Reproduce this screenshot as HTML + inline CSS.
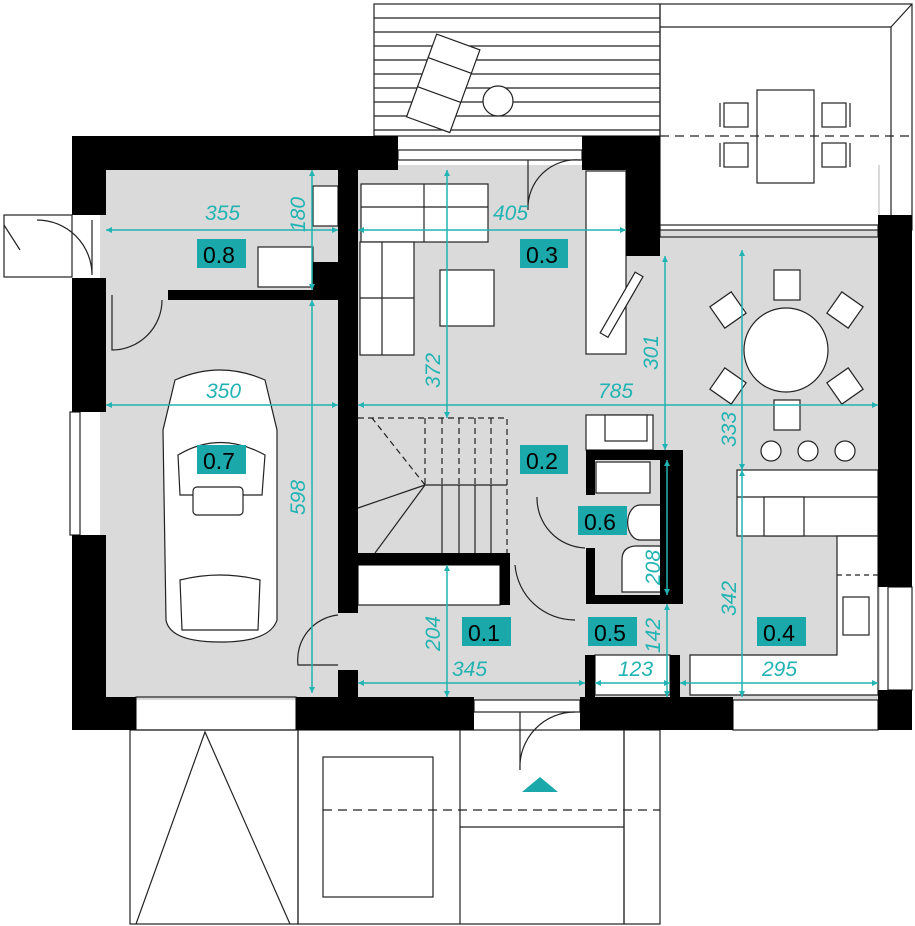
<!DOCTYPE html>
<html><head><meta charset="utf-8"><style>
html,body{margin:0;padding:0;background:#fff;width:915px;height:926px;overflow:hidden}
svg{display:block}
.d{font-family:"Liberation Sans",sans-serif;font-style:italic;font-size:21px;fill:#22b3b3}
.l{font-family:"Liberation Sans",sans-serif;font-size:23px;fill:#000}
</style></head><body>
<svg width="915" height="926" viewBox="0 0 915 926" xmlns="http://www.w3.org/2000/svg">
<defs>
<marker id="a" viewBox="0 0 10 10" refX="10" refY="5" markerWidth="6" markerHeight="6" orient="auto-start-reverse" markerUnits="userSpaceOnUse"><path d="M0,0 L10,5 L0,10 z" fill="#22b3b3"/></marker>
</defs>
<style>.a{marker-start:url(#a);marker-end:url(#a)}</style>
<!-- floors -->
<g fill="#dadada">
<rect x="100" y="165" width="780" height="535"/>
</g>
<rect x="660" y="136" width="218" height="94" fill="#fff"/>
<g fill="none" stroke="#222" stroke-width="1.2">
<!-- top terrace -->
<rect x="374" y="4" width="286" height="132"/>
<line x1="374" y1="18" x2="660" y2="18"/><line x1="374" y1="32" x2="660" y2="32"/><line x1="374" y1="46" x2="660" y2="46"/><line x1="374" y1="60" x2="660" y2="60"/><line x1="374" y1="74" x2="660" y2="74"/><line x1="374" y1="88" x2="660" y2="88"/><line x1="374" y1="102" x2="660" y2="102"/><line x1="374" y1="116" x2="660" y2="116"/><line x1="374" y1="130" x2="660" y2="130"/>
<rect x="660" y="4" width="252" height="226"/>
<polyline points="660,27 891,27 891,230"/><line x1="891" y1="27" x2="912" y2="4"/>
<line x1="660" y1="136" x2="912" y2="136" stroke-dasharray="9,6"/>
<rect x="757" y="90" width="57" height="93"/>
<rect x="724" y="103" width="24" height="24"/><rect x="724" y="143" width="24" height="24"/><rect x="822" y="103" width="24" height="24"/><rect x="822" y="143" width="24" height="24"/>
<line x1="720" y1="103" x2="720" y2="127"/><line x1="720" y1="143" x2="720" y2="167"/><line x1="850" y1="103" x2="850" y2="127"/><line x1="850" y1="143" x2="850" y2="167"/>
<g transform="rotate(20 437 80)" fill="#fff"><rect x="421" y="37" width="46" height="88"/><line x1="421" y1="62" x2="467" y2="62"/><line x1="421" y1="93" x2="467" y2="93"/></g>
<circle cx="498" cy="101" r="15" fill="#fff"/>
</g>
<g fill="#fff" stroke="#222" stroke-width="1.2">
<rect x="586" y="171" width="40" height="183"/>
<g transform="rotate(30 622 305)"><rect x="617" y="270" width="9" height="70"/></g>
<rect x="361" y="184" width="127" height="58"/><line x1="424" y1="184" x2="424" y2="242"/><line x1="361" y1="207" x2="488" y2="207"/>
<rect x="360" y="242" width="54" height="113"/><line x1="360" y1="298" x2="414" y2="298"/><line x1="382" y1="242" x2="382" y2="355"/>
<rect x="440" y="270" width="54" height="56"/>
<rect x="258" y="247" width="55" height="40"/>
<rect x="313" y="186" width="25" height="40"/>
<circle cx="786" cy="350" r="42"/>
<rect x="774" y="270" width="26" height="30"/><rect x="774" y="400" width="26" height="30"/>
<rect x="715" y="297" width="26" height="26" transform="rotate(-35 728 310)"/><rect x="832" y="297" width="26" height="26" transform="rotate(35 845 310)"/>
<rect x="715" y="373" width="26" height="26" transform="rotate(35 728 386)"/><rect x="832" y="373" width="26" height="26" transform="rotate(-35 845 386)"/>
<circle cx="771" cy="451" r="10"/><circle cx="808" cy="451" r="10"/><circle cx="845" cy="451" r="10"/>
<rect x="737" y="470" width="141" height="66"/><line x1="737" y1="497" x2="878" y2="497"/>
<rect x="764" y="497" width="40" height="39"/>
<path d="M837 536 H878 V695 H690 V655 H837 Z"/>
<rect x="843" y="597" width="26" height="38"/>
<line x1="837" y1="575" x2="878" y2="575" stroke-dasharray="5,4"/>
<rect x="586" y="415" width="67" height="35"/><rect x="605" y="415" width="42" height="26"/>
<rect x="596" y="462" width="54" height="31"/>
<path d="M640 505 H675 V540 H640 A12 17 0 0 1 640 505 Z"/>
<path d="M622 592 V560 Q622 546 637 546 H675 V592 Z"/>
<rect x="358" y="565" width="142" height="40"/>
<rect x="595" y="655" width="75" height="40"/>
<!-- car -->
<path d="M175 380 Q220 360 265 380 L277 430 L277 620 Q270 642 220 642 Q170 642 166 620 L163 430 Z"/>
<path d="M178 455 Q220 430 265 455 L262 495 L180 495 Z" fill="none"/>
<rect x="193" y="487" width="50" height="28" rx="4"/>
<path d="M180 580 Q220 570 260 580 L258 630 L182 630 Z" fill="none"/>
<!-- stairs -->
<g fill="none">
<path d="M358 418 H507 V553" stroke-dasharray="6,4"/>
<line x1="425" y1="418" x2="425" y2="485" stroke-dasharray="6,4"/><line x1="442" y1="418" x2="442" y2="485" stroke-dasharray="6,4"/><line x1="459" y1="418" x2="459" y2="485" stroke-dasharray="6,4"/><line x1="475" y1="418" x2="475" y2="485" stroke-dasharray="6,4"/><line x1="491" y1="418" x2="491" y2="485" stroke-dasharray="6,4"/>
<line x1="425" y1="485" x2="507" y2="485"/>
<line x1="442" y1="485" x2="442" y2="553"/><line x1="459" y1="485" x2="459" y2="553"/><line x1="475" y1="485" x2="475" y2="553"/><line x1="491" y1="485" x2="491" y2="553"/>
<line x1="425" y1="485" x2="375" y2="553"/><line x1="425" y1="485" x2="358" y2="508"/><line x1="425" y1="485" x2="372" y2="418" stroke-dasharray="6,4"/>
<!-- door arcs -->
<path d="M528 160 V210 A48 48 0 0 1 580 160"/>
<path d="M112 295 V350 A50 50 0 0 0 162 300"/>
<path d="M92 220 V275 A55 55 0 0 0 37 220"/>
<path d="M338 615 A45 45 0 0 0 298 665 H338"/>
<path d="M515 565 A60 60 0 0 0 575 620"/>
<path d="M537 497 A50 50 0 0 0 585 548"/>
<path d="M520 712 V770 A55 55 0 0 1 575 712"/>
<rect x="4" y="215" width="68" height="62"/>
<line x1="4" y1="225" x2="20" y2="250"/>
</g>
<!-- bottom -->
<g fill="none">
<rect x="130" y="730" width="168" height="194"/>
<polyline points="136,924 205,732 290,924"/>
<rect x="298" y="730" width="326" height="194"/>
<rect x="323" y="757" width="110" height="140"/>
<line x1="323" y1="810" x2="660" y2="810" stroke-dasharray="9,6"/>
<line x1="460" y1="730" x2="460" y2="924"/>
<line x1="460" y1="827" x2="624" y2="827"/>
<rect x="624" y="730" width="36" height="194"/>
<rect x="733" y="700" width="145" height="30"/>
<rect x="136" y="697" width="160" height="33"/>
<rect x="70" y="412" width="10" height="123"/>
<rect x="888" y="587" width="24" height="103"/>
<rect x="398" y="150" width="184" height="10"/>
<rect x="660" y="225" width="218" height="12"/>
<rect x="474" y="700" width="106" height="12"/>
</g>
</g>
<!-- walls -->
<g fill="#000">
<rect x="72" y="136" width="326" height="34"/>
<rect x="72" y="136" width="34" height="79"/>
<rect x="72" y="278" width="34" height="134"/>
<rect x="72" y="535" width="34" height="195"/>
<rect x="72" y="697" width="64" height="33"/>
<rect x="296" y="697" width="178" height="33"/>
<rect x="338" y="165" width="20" height="448"/>
<rect x="338" y="670" width="20" height="30"/>
<rect x="168" y="290" width="170" height="10"/>
<rect x="313" y="262" width="25" height="38"/>
<rect x="582" y="136" width="78" height="34"/>
<rect x="626" y="136" width="34" height="120"/>
<rect x="878" y="215" width="34" height="372"/>
<rect x="878" y="690" width="34" height="40"/>
<rect x="580" y="697" width="153" height="33"/>
<rect x="358" y="553" width="152" height="12"/>
<rect x="500" y="553" width="10" height="52"/>
<rect x="586" y="450" width="97" height="10"/>
<rect x="586" y="450" width="9" height="45"/>
<rect x="586" y="548" width="9" height="55"/>
<rect x="586" y="595" width="97" height="9"/>
<rect x="660" y="450" width="23" height="153"/>
<rect x="585" y="655" width="10" height="45"/>
<rect x="670" y="655" width="10" height="45"/>
</g>
<!-- dimensions -->
<g stroke="#22b3b3" stroke-width="1.5">
<line class="a" x1="106" y1="230" x2="338" y2="230"/>
<line class="a" x1="358" y1="230" x2="626" y2="230"/>
<line class="a" x1="312" y1="170" x2="312" y2="290"/>
<line class="a" x1="312" y1="300" x2="312" y2="693"/>
<line class="a" x1="447" y1="170" x2="447" y2="418"/>
<line class="a" x1="106" y1="405" x2="338" y2="405"/>
<line class="a" x1="358" y1="405" x2="878" y2="405"/>
<line class="a" x1="665" y1="256" x2="665" y2="450"/>
<line class="a" x1="742" y1="250" x2="742" y2="470"/>
<line class="a" x1="742" y1="470" x2="742" y2="697"/>
<line class="a" x1="667" y1="460" x2="667" y2="595"/>
<line class="a" x1="667" y1="604" x2="667" y2="697"/>
<line class="a" x1="447" y1="565" x2="447" y2="697"/>
<line class="a" x1="358" y1="683" x2="585" y2="683"/>
<line class="a" x1="595" y1="683" x2="670" y2="683"/>
<line class="a" x1="680" y1="683" x2="878" y2="683"/>
</g>
<g class="d">
<text x="205" y="220">355</text>
<text x="493" y="220">405</text>
<text x="206" y="398">350</text>
<text x="598" y="398">785</text>
<text x="452" y="676">345</text>
<text x="618" y="676">123</text>
<text x="762" y="676">295</text>
<text transform="translate(305 232) rotate(-90)">180</text>
<text transform="translate(440 388) rotate(-90)">372</text>
<text transform="translate(305 515) rotate(-90)">598</text>
<text transform="translate(658 370) rotate(-90)">301</text>
<text transform="translate(736 447) rotate(-90)">333</text>
<text transform="translate(736 616) rotate(-90)">342</text>
<text transform="translate(660 585) rotate(-90)">208</text>
<text transform="translate(660 653) rotate(-90)">142</text>
<text transform="translate(440 651) rotate(-90)">204</text>
</g>
<g fill="#1ba8aa">
<rect x="197" y="239" width="49" height="29"/>
<rect x="520" y="239" width="48" height="29"/>
<rect x="197" y="445" width="49" height="29"/>
<rect x="520" y="445" width="48" height="29"/>
<rect x="578" y="506" width="49" height="29"/>
<rect x="462" y="617" width="49" height="29"/>
<rect x="588" y="617" width="49" height="29"/>
<rect x="757" y="617" width="49" height="29"/>
<polygon points="522,792 540,777 558,792"/>
</g>
<g class="l">
<text x="203" y="263">0.8</text>
<text x="526" y="263">0.3</text>
<text x="203" y="469">0.7</text>
<text x="526" y="469">0.2</text>
<text x="584" y="530">0.6</text>
<text x="468" y="641">0.1</text>
<text x="594" y="641">0.5</text>
<text x="763" y="641">0.4</text>
</g>
</svg>
</body></html>
